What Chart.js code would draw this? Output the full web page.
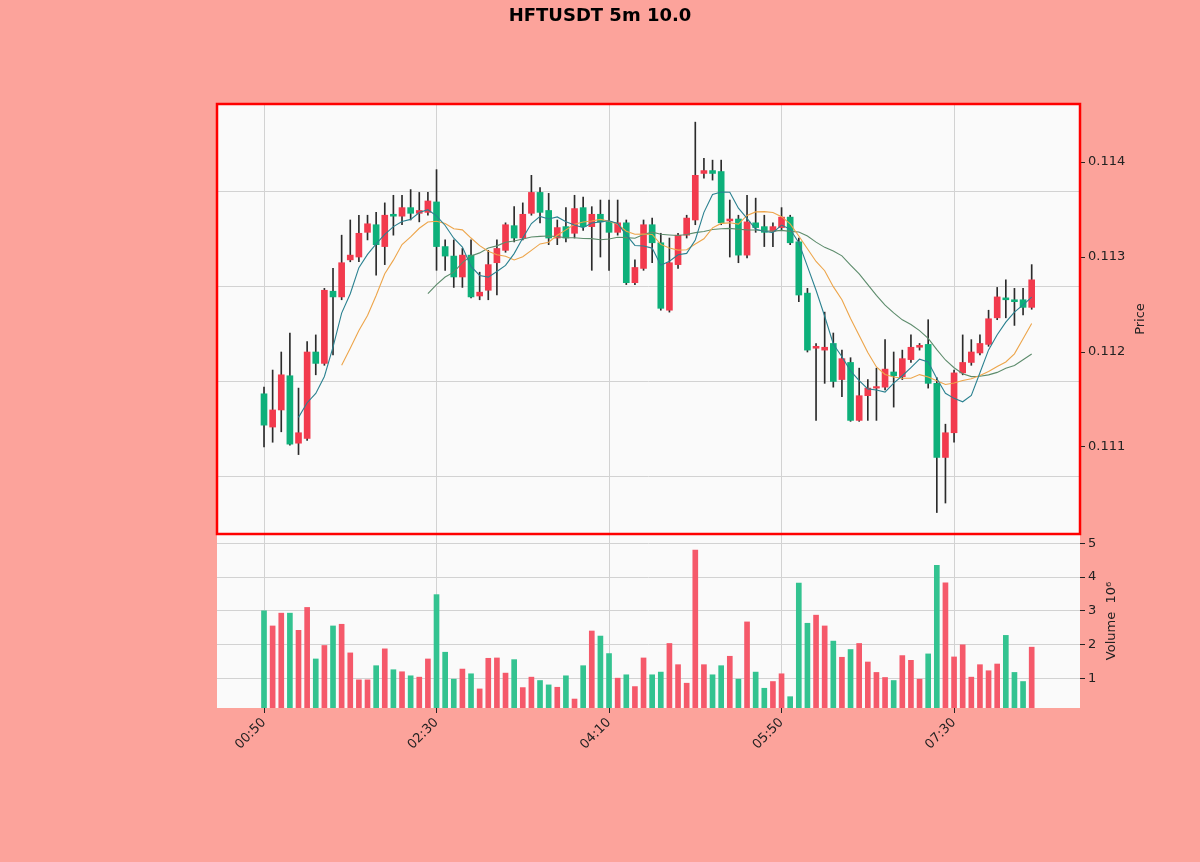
<!DOCTYPE html>
<html>
<head>
<meta charset="utf-8">
<script src="https://cdn.jsdelivr.net/npm/chart.js@4.4.1/dist/chart.umd.min.js"></script>
<style>
  html, body { margin: 0; padding: 0; background: #fca39b; }
  #wrap { width: 1200px; height: 862px; }
</style>
</head>
<body>
<div id="wrap"><canvas id="velasCanvas" width="1200" height="862"></canvas></div>
<script>
// datos (5m, 00:50 -> 08:15)
const aperturas = [0.11156,0.11121,0.11139,0.11175,0.11104,0.11109,0.11200,0.11188,0.11264,0.11258,
    0.11297,0.11300,0.11326,0.11334,0.11311,0.11345,0.11343,0.11352,0.11346,0.11347,
    0.11358,0.11311,0.11301,0.11279,0.11302,0.11259,0.11265,0.11294,0.11307,0.11333,
    0.11320,0.11346,0.11368,0.11349,0.11320,0.11332,0.11325,0.11352,0.11332,0.11345,
    0.11337,0.11326,0.11336,0.11273,0.11288,0.11334,0.11315,0.11244,0.11292,0.11323,
    0.11339,0.11388,0.11391,0.11390,0.11338,0.11340,0.11302,0.11336,0.11332,0.11327,
    0.11331,0.11342,0.11316,0.11262,0.11204,0.11202,0.11209,0.11171,0.11189,0.11128,
    0.11154,0.11162,0.11163,0.11179,0.11174,0.11192,0.11205,0.11208,0.11167,0.11089,
    0.11115,0.11178,0.11189,0.11199,0.11208,0.11236,0.11257,0.11255,0.11255,0.11247];
const maximos = [0.11163,0.11181,0.11200,0.11220,0.11162,0.11211,0.11218,0.11267,0.11288,0.11323,
    0.11339,0.11344,0.11344,0.11347,0.11357,0.11365,0.11365,0.11371,0.11368,0.11368,
    0.11392,0.11318,0.11318,0.11309,0.11318,0.11284,0.11307,0.11318,0.11336,0.11353,
    0.11357,0.11386,0.11373,0.11367,0.11339,0.11352,0.11365,0.11363,0.11353,0.11360,
    0.11360,0.11360,0.11339,0.11297,0.11339,0.11341,0.11325,0.11320,0.11325,0.11344,
    0.11442,0.11404,0.11402,0.11402,0.11360,0.11344,0.11365,0.11362,0.11344,0.11336,
    0.11352,0.11344,0.11320,0.11267,0.11209,0.11242,0.11220,0.11202,0.11194,0.11183,
    0.11171,0.11183,0.11213,0.11200,0.11202,0.11218,0.11209,0.11234,0.11173,0.11124,
    0.11181,0.11218,0.11213,0.11218,0.11244,0.11268,0.11276,0.11267,0.11267,0.11292];
const minimos = [0.11100,0.11105,0.11116,0.11102,0.11092,0.11107,0.11176,0.11186,0.11197,0.11255,
    0.11295,0.11295,0.11318,0.11281,0.11292,0.11323,0.11334,0.11339,0.11337,0.11344,
    0.11286,0.11286,0.11268,0.11268,0.11257,0.11255,0.11255,0.11260,0.11305,0.11316,
    0.11318,0.11344,0.11336,0.11313,0.11313,0.11316,0.11320,0.11328,0.11286,0.11300,
    0.11286,0.11323,0.11271,0.11271,0.11286,0.11294,0.11244,0.11242,0.11288,0.11320,
    0.11334,0.11383,0.11381,0.11334,0.11300,0.11294,0.11299,0.11326,0.11311,0.11311,
    0.11328,0.11313,0.11253,0.11200,0.11128,0.11167,0.11163,0.11153,0.11127,0.11127,
    0.11128,0.11128,0.11160,0.11142,0.11171,0.11189,0.11202,0.11162,0.11031,0.11041,
    0.11105,0.11176,0.11186,0.11197,0.11206,0.11234,0.11236,0.11228,0.11239,0.11245];
const cierres = [0.11123,0.11139,0.11176,0.11103,0.11115,0.11200,0.11188,0.11265,0.11258,0.11294,
    0.11302,0.11325,0.11335,0.11313,0.11344,0.11343,0.11352,0.11346,0.11349,0.11359,
    0.11311,0.11301,0.11279,0.11302,0.11258,0.11263,0.11292,0.11309,0.11334,0.11320,
    0.11345,0.11368,0.11347,0.11320,0.11331,0.11320,0.11351,0.11332,0.11345,0.11337,
    0.11326,0.11336,0.11273,0.11289,0.11334,0.11315,0.11246,0.11294,0.11323,0.11341,
    0.11386,0.11391,0.11388,0.11336,0.11340,0.11302,0.11337,0.11331,0.11326,0.11332,
    0.11342,0.11315,0.11260,0.11202,0.11206,0.11205,0.11169,0.11193,0.11128,0.11154,
    0.11162,0.11163,0.11182,0.11175,0.11193,0.11205,0.11207,0.11167,0.11089,0.11115,
    0.11178,0.11189,0.11200,0.11209,0.11235,0.11258,0.11255,0.11253,0.11247,0.11276];
// volumen en millones
const volumenes = [3.00,2.55,2.93,2.93,2.42,3.10,1.57,1.97,2.55,2.60,
    1.75,0.95,0.95,1.37,1.87,1.25,1.19,1.07,1.03,1.57,
    3.48,1.77,0.97,1.27,1.13,0.68,1.59,1.60,1.15,1.55,
    0.72,1.03,0.93,0.80,0.73,1.07,0.38,1.37,2.40,2.25,
    1.73,1.00,1.10,0.75,1.60,1.10,1.18,2.03,1.40,0.85,
    4.80,1.40,1.10,1.37,1.65,0.97,2.67,1.18,0.70,0.90,
    1.13,0.45,3.82,2.63,2.87,2.55,2.10,1.62,1.85,2.03,
    1.48,1.17,1.02,0.93,1.67,1.53,0.97,1.72,4.35,3.83,
    1.63,1.99,1.03,1.40,1.22,1.42,2.27,1.17,0.90,1.92];

const posicionesHora = [0, 20, 40, 60, 80];
const etiquetasHora = ['00:50', '02:30', '04:10', '05:50', '07:30'];
const ticksPrecio = [0.111, 0.112, 0.113, 0.114];
const lineasPrecio = [0.11069, 0.11169, 0.11269, 0.11369];
const ticksVolumen = [1, 2, 3, 4, 5];
const periodosMedia = [5, 10, 20];

const ROJO = '#f23a4d', VERDE = '#0db07a';
const ROJO_VOL = '#f5596a', VERDE_VOL = '#33c390';
const coloresMedia = ['#2a8190', '#eda54a', '#5d8c6c'];

function mediaMovil(n) {
    const puntos = [];
    for (let i = n - 1; i < cierres.length; i++) {
        let s = 0;
        for (let k = i - n + 1; k <= i; k++) s += cierres[k];
        puntos.push({ x: i, y: s / n });
    }
    return puntos;
}

const subida = cierres.map((c, i) => c >= aperturas[i]);

const datasets = [
    {
        type: 'bar', label: 'mechas', yAxisID: 'precio', order: 3,
        data: cierres.map((c, i) => ({ x: i, y: [minimos[i], maximos[i]] })),
        backgroundColor: '#2b2b2b', barThickness: 1, grouped: false
    },
    {
        type: 'bar', label: 'cuerpos', yAxisID: 'precio', order: 2,
        data: cierres.map((c, i) => ({ x: i, y: [aperturas[i], c] })),
        backgroundColor: subida.map(s => s ? ROJO : VERDE),
        barThickness: 6, minBarLength: 1.5, grouped: false
    },
    {
        type: 'bar', label: 'volumen', yAxisID: 'vol', order: 2,
        data: volumenes.map((v, i) => ({ x: i, y: v })),
        backgroundColor: subida.map(s => s ? ROJO_VOL : VERDE_VOL),
        barThickness: 5, grouped: false
    }
];
periodosMedia.forEach((n, j) => {
    datasets.push({
        type: 'line', label: 'MA' + n, yAxisID: 'precio', order: 0,
        data: mediaMovil(n), borderColor: coloresMedia[j], borderWidth: 1.1,
        pointRadius: 0, tension: 0, fill: false
    });
});

const fondoYMarco = {
    id: 'fondoYMarco',
    beforeDraw(chart) {
        const { ctx, chartArea: a } = chart;
        ctx.save();
        ctx.fillStyle = '#fca39b';
        ctx.fillRect(0, 0, chart.width, chart.height);
        ctx.fillStyle = '#fafafa';
        ctx.fillRect(a.left, a.top, a.right - a.left, a.bottom - a.top);
        ctx.restore();
    },
    beforeDatasetsDraw(chart) {
        const { ctx, chartArea: a } = chart;
        const p = chart.scales.precio;
        ctx.save();
        ctx.strokeStyle = '#d2d2d2';
        ctx.lineWidth = 1;
        lineasPrecio.forEach(v => {
            const y = Math.round(p.getPixelForValue(v)) + 0.5;
            ctx.beginPath();
            ctx.moveTo(a.left, y);
            ctx.lineTo(a.right, y);
            ctx.stroke();
        });
        ctx.restore();
    },
    afterDraw(chart) {
        const { ctx, chartArea: a } = chart;
        const p = chart.scales.precio;
        const v = chart.scales.vol;
        ctx.save();
        ctx.strokeStyle = '#ff0000';
        ctx.lineWidth = 2.5;
        ctx.strokeRect(a.left, p.top, a.right - a.left, p.bottom - p.top);

        ctx.fillStyle = '#000';
        ctx.textAlign = 'center';
        ctx.textBaseline = 'middle';
        ctx.font = 'bold 18px "DejaVu Sans"';
        ctx.fillText('HFTUSDT 5m 10.0', 600, 16);

        ctx.font = '13px "DejaVu Sans"';
        ctx.fillStyle = '#222';
        ctx.translate(1141, (p.top + p.bottom) / 2);
        ctx.rotate(-Math.PI / 2);
        ctx.fillText('Price', 0, 0);
        ctx.setTransform(1, 0, 0, 1, 0, 0);
        ctx.translate(1112, (v.top + v.bottom) / 2);
        ctx.rotate(-Math.PI / 2);
        ctx.fillText('Volume  10\u2076', 0, 0);
        ctx.restore();
    }
};

Chart.defaults.font.family = '"DejaVu Sans", sans-serif';
Chart.defaults.font.size = 13;
Chart.defaults.color = '#222';

const ctx = document.getElementById('velasCanvas').getContext('2d');
const grafico = new Chart(ctx, {
    data: { datasets: datasets },
    plugins: [fondoYMarco],
    options: {
        responsive: false,
        devicePixelRatio: 1,
        animation: false,
        layout: { padding: { left: 217, top: 104, right: 0, bottom: 0 } },
        plugins: { legend: { display: false }, tooltip: { enabled: false } },
        scales: {
            x: {
                type: 'linear', position: 'bottom', offset: false,
                min: -5.45, max: 94.6,
                afterBuildTicks: s => { s.ticks = posicionesHora.map(v => ({ value: v })); },
                afterFit: s => { s.height = 154; },
                ticks: {
                    minRotation: 45, maxRotation: 45, padding: 2,
                    callback: v => etiquetasHora[posicionesHora.indexOf(v)]
                },
                grid: { offset: false, color: '#d2d2d2', lineWidth: 1, tickLength: 5, tickColor: '#222' },
                border: { display: false }
            },
            precio: {
                type: 'linear', position: 'right', stack: 'paneles', stackWeight: 430,
                min: 0.110084, max: 0.114611,
                afterBuildTicks: s => { s.ticks = ticksPrecio.map(v => ({ value: v })); },
                afterFit: s => { s.width = 120; },
                ticks: { padding: 3, callback: v => v.toFixed(3) },
                grid: { drawOnChartArea: false, tickLength: 5, tickColor: '#222' },
                border: { display: false }
            },
            vol: {
                type: 'linear', position: 'right', stack: 'paneles', stackWeight: 174,
                min: 0.3 * Math.min(...volumenes), max: 1.1 * Math.max(...volumenes),
                afterBuildTicks: s => { s.ticks = ticksVolumen.map(v => ({ value: v })); },
                afterFit: s => { s.width = 120; },
                ticks: { padding: 3 },
                grid: { color: '#d2d2d2', tickLength: 5, tickColor: '#222' },
                border: { display: false }
            }
        }
    }
});
</script>
</body>
</html>
